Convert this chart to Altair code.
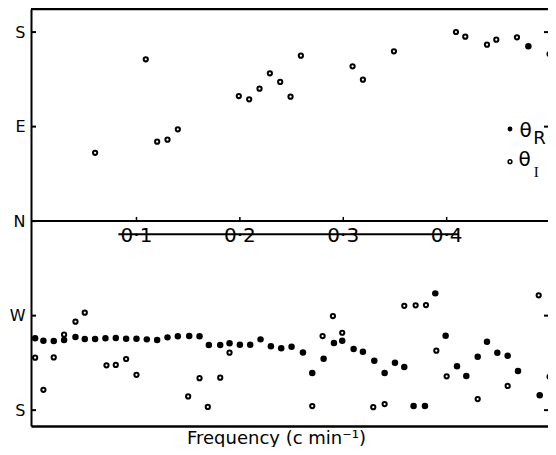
import altair as alt
import pandas as pd

# Directions in degrees: N = 0, E = 90, S = +/-180, W = -90
compass_values = [180, 90, 0, -90, -180]
compass_labels = ["S", "E", "N", "W", "S"]
right_tick_values = [180, 90, -90, -180]

mid_ticks = [0.1, 0.2, 0.3, 0.4]
mid_labels = ["0·1", "0·2", "0·3", "0·4"]

# theta_R (filled dots)
r_freq = [0.002, 0.010, 0.020, 0.030, 0.041, 0.050, 0.060, 0.070, 0.080, 0.090,
          0.100, 0.110, 0.120, 0.130, 0.140, 0.151, 0.161, 0.170, 0.181, 0.190,
          0.200, 0.210, 0.220, 0.230, 0.240, 0.250, 0.261, 0.270, 0.281, 0.291,
          0.299, 0.310, 0.319, 0.330, 0.340, 0.350, 0.359, 0.368, 0.379, 0.389,
          0.399, 0.410, 0.419, 0.430, 0.439, 0.449, 0.459, 0.469, 0.479, 0.490]
r_dir = [-111.6, -113.9, -114.2, -113.2, -110.4, -112.3, -112.3, -111.6, -111.3, -112.0,
         -112.0, -112.6, -113.2, -110.7, -109.7, -109.4, -109.7, -118.0, -118.0, -116.4,
         -117.7, -117.7, -112.6, -119.2, -121.1, -119.6, -125.0, -144.7, -131.0, -116.1,
         -113.9, -121.8, -124.4, -133.0, -144.7, -134.9, -139.0, -176.1, -176.1, -68.8,
         -109.1, -138.3, -147.5, -129.1, -114.9, -125.3, -128.2, -142.8, 166.5, -165.9]

# theta_I (open circles)
i_freq = [0.002, 0.010, 0.020, 0.030, 0.041, 0.050, 0.060, 0.071, 0.080, 0.090,
          0.100, 0.109, 0.120, 0.130, 0.140, 0.150, 0.161, 0.169, 0.181, 0.190,
          0.199, 0.209, 0.219, 0.229, 0.239, 0.249, 0.259, 0.270, 0.280, 0.290,
          0.299, 0.309, 0.319, 0.329, 0.340, 0.349, 0.359, 0.370, 0.380, 0.390,
          0.400, 0.409, 0.418, 0.430, 0.439, 0.448, 0.459, 0.468, 0.489, 0.4995,
          0.4995]
i_dir = [-130.1, -160.6, -129.8, -108.2, -95.8, -87.2, 65.1, -137.3, -137.0, -131.3,
         -146.3, 154.1, 75.6, 77.5, 87.4, -166.9, -149.6, -177.0, -149.1, -125.3,
         119.1, 116.0, 126.1, 140.8, 132.5, 118.5, 157.5, -176.1, -109.4, -90.4,
         -106.3, 147.4, 134.7, -177.2, -174.2, 161.7, -80.6, -80.2, -79.9, -123.4,
         -147.8, 180.1, 175.6, -169.4, 168.0, 172.8, -157.0, 175.0, -70.7, 159.1,
         -148.2]

strike_from, strike_to, strike_at = 0.0825, 0.412, -12.6

W, H = 517, 417
FONT = "DejaVu Sans"

df_r = pd.DataFrame({"f": r_freq, "d": r_dir})
df_i = pd.DataFrame({"f": i_freq, "d": i_dir})
df_mid = pd.DataFrame({"f": mid_ticks, "lab": mid_labels})
df_left = pd.DataFrame({"d": compass_values})
df_right = pd.DataFrame({"d": right_tick_values})
one = pd.DataFrame({"a": [0]})

xs = alt.Scale(domain=[-0.002, 0.498], nice=False, zero=False)
ys = alt.Scale(domain=[-195.1, 202], nice=False, zero=False)

label_expr = " : ".join(
    f"datum.value == {v} ? '{l}'" for v, l in zip(compass_values, compass_labels)
) + " : ''"

x_axis = alt.Axis(title="Frequency (c min⁻¹)", labels=False, ticks=False, grid=False,
                  domainColor="black", domainWidth=2.5, titleFont=FONT, titleFontSize=18,
                  titleFontWeight="normal", titleColor="black", titleX=245, titleY=17,
                  titleBaseline="alphabetic")
y_axis = alt.Axis(values=compass_values, labelExpr=label_expr, ticks=False, grid=False,
                  domainColor="black", domainWidth=2, labelFont=FONT, labelFontSize=16,
                  labelColor="black", labelPadding=6, title=None)

open_pts = alt.Chart(df_i).mark_point(shape="circle", filled=False, color="black",
                                       strokeWidth=2, size=18, opacity=1, clip=True).encode(
    x=alt.X("f:Q", scale=xs, axis=x_axis),
    y=alt.Y("d:Q", scale=ys, axis=y_axis),
)
filled_pts = alt.Chart(df_r).mark_circle(color="black", size=42, opacity=1, clip=True).encode(
    x=alt.X("f:Q", scale=xs),
    y=alt.Y("d:Q", scale=ys),
)

top_line = alt.Chart(one).mark_rule(color="black", strokeWidth=2.5).encode(
    x=alt.value(0), x2=alt.value(W), y=alt.value(0))
mid_line = alt.Chart(one).mark_rule(color="black", strokeWidth=2).encode(
    x=alt.value(0), x2=alt.value(W), y=alt.datum(0))
mid_tick_marks = alt.Chart(df_mid).mark_rule(color="black", strokeWidth=1.5).encode(
    x=alt.X("f:Q", scale=xs), y=alt.datum(0), y2=alt.datum(4))
mid_tick_labels = alt.Chart(df_mid).mark_text(font=FONT, fontSize=20, color="black",
                                              baseline="alphabetic", dy=21).encode(
    x=alt.X("f:Q", scale=xs), y=alt.datum(0), text="lab:N")
strike = alt.Chart(one).mark_rule(color="black", strokeWidth=2).encode(
    x=alt.datum(strike_from), x2=alt.datum(strike_to), y=alt.datum(strike_at))
left_ticks = alt.Chart(df_left).mark_rule(color="black", strokeWidth=2).encode(
    x=alt.value(0), x2=alt.value(5), y=alt.Y("d:Q", scale=ys))
right_ticks = alt.Chart(df_right).mark_rule(color="black", strokeWidth=2).encode(
    x=alt.value(W - 4), x2=alt.value(W), y=alt.Y("d:Q", scale=ys))

LX = 479
leg_dot_r = alt.Chart(one).mark_circle(color="black", size=24, opacity=1).encode(
    x=alt.value(LX), y=alt.value(120))
leg_dot_i = alt.Chart(one).mark_point(shape="circle", filled=False, color="black",
                                      strokeWidth=1.5, size=14, opacity=1).encode(
    x=alt.value(LX), y=alt.value(152.7))
leg_theta_r = alt.Chart(one).mark_text(text="θ", font=FONT, fontSize=20, color="black",
                                       baseline="alphabetic").encode(
    x=alt.value(LX + 15.5), y=alt.value(128))
leg_sub_r = alt.Chart(one).mark_text(text="R", font=FONT, fontSize=18, color="black",
                                     baseline="alphabetic").encode(
    x=alt.value(LX + 29.5), y=alt.value(135))
leg_theta_i = alt.Chart(one).mark_text(text="θ", font=FONT, fontSize=20, color="black",
                                       baseline="alphabetic").encode(
    x=alt.value(LX + 14.5), y=alt.value(157))
leg_sub_i = alt.Chart(one).mark_text(text="I", font="Liberation Serif", fontSize=15,
                                     color="black", baseline="alphabetic").encode(
    x=alt.value(LX + 26.3), y=alt.value(167.5))

chart = alt.layer(
    top_line, mid_line, mid_tick_marks, strike, mid_tick_labels, left_ticks, right_ticks,
    open_pts, filled_pts,
    leg_dot_r, leg_dot_i, leg_theta_r, leg_sub_r, leg_theta_i, leg_sub_i,
).properties(
    width=W, height=H,
    padding={"left": 23, "top": 1, "right": 0, "bottom": 21},
    autosize=alt.AutoSizeParams(type="none"),
    background="white",
).configure_view(stroke=None)

chart.save("out.html", embed_options={"renderer": "svg", "actions": False})
